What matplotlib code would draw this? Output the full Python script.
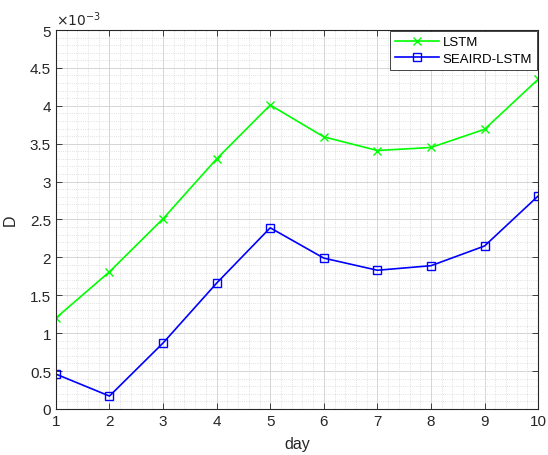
import numpy as np
import matplotlib.pyplot as plt
from matplotlib.ticker import MultipleLocator

plt.rcParams['font.family'] = ['Liberation Sans', 'DejaVu Sans']

days = [1, 2, 3, 4, 5, 6, 7, 8, 9, 10]
lstm = [1.20, 1.81, 2.51, 3.30, 4.01, 3.59, 3.41, 3.45, 3.69, 4.35]
seaird_lstm = [0.46, 0.17, 0.87, 1.66, 2.39, 1.99, 1.83, 1.89, 2.15, 2.81]

fig = plt.figure(figsize=(5.48, 4.56), dpi=100)
ax = fig.add_axes([0.102, 0.101, 0.880, 0.831])

ax.plot(days, lstm, '-x', color=(0, 1, 0), linewidth=1.2, markersize=6,
        markeredgewidth=1.0, label='LSTM')
ax.plot(days, seaird_lstm, '-s', color=(0, 0, 1), linewidth=1.2, markersize=6,
        markerfacecolor='none', markeredgewidth=1.0, label='SEAIRD-LSTM')

ax.set_xlim(1, 10)
ax.set_ylim(0, 5)
ax.xaxis.set_major_locator(MultipleLocator(1))
ax.xaxis.set_minor_locator(MultipleLocator(0.2))
ax.yaxis.set_major_locator(MultipleLocator(0.5))
ax.yaxis.set_minor_locator(MultipleLocator(0.1))
ax.set_yticks(np.arange(0, 5.01, 0.5))
ax.set_yticklabels(['0', '0.5', '1', '1.5', '2', '2.5', '3', '3.5', '4', '4.5', '5'])

ax.grid(which='major', color='#cfcfcf', linewidth=0.6)
ax.grid(which='minor', color='#d6d6d6', linewidth=0.6, linestyle=':')
ax.set_axisbelow(True)

for s in ax.spines.values():
    s.set_color('#262626')
    s.set_linewidth(0.8)
ax.tick_params(which='major', direction='in', top=True, right=True, length=4,
               labelsize=11, colors='#262626', width=0.6)
ax.tick_params(which='minor', length=0)

ax.set_xlabel('day', fontsize=11.5, color='#262626', labelpad=6)
ax.set_ylabel('D', fontsize=11.5, color='#262626', labelpad=9)
ax.text(0.0, 1.005, r'$\times10^{-3}$', transform=ax.transAxes, fontsize=10,
        color='#262626', ha='left', va='bottom', fontfamily='Liberation Sans')

leg = ax.legend(loc='upper right', fontsize=9.5, fancybox=False, framealpha=1,
                edgecolor='#262626', borderaxespad=0.1, handlelength=3.4,
                borderpad=0.35, labelspacing=0.35, handletextpad=0.25)
leg.get_frame().set_linewidth(0.6)

fig.savefig('out.png', dpi=100)
